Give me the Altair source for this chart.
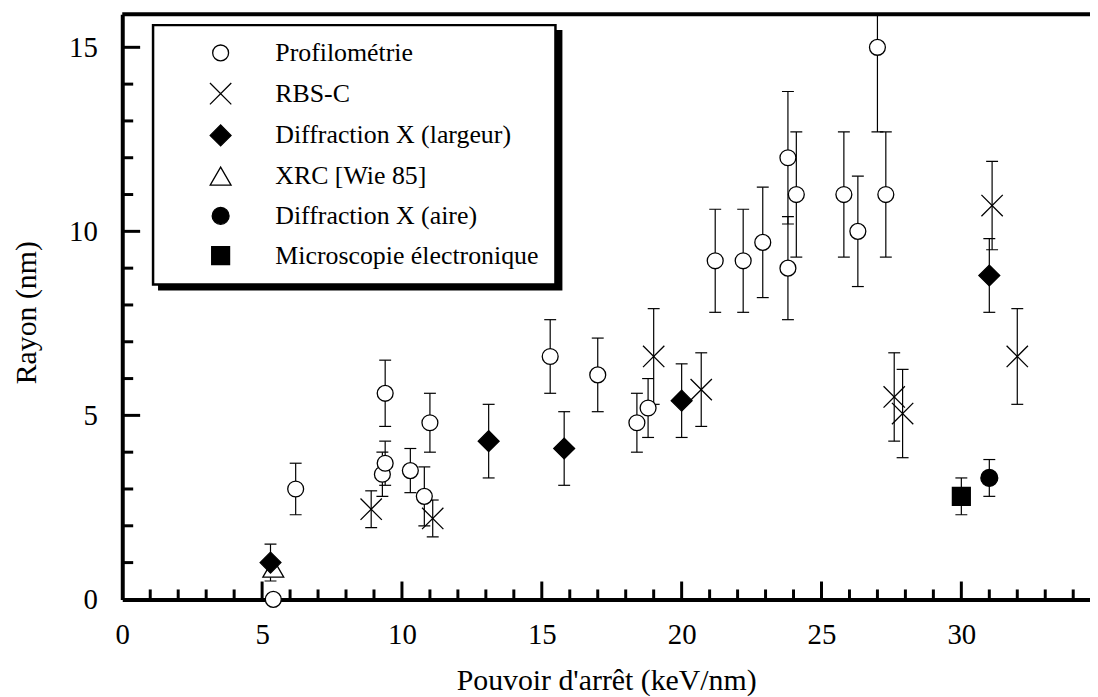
import altair as alt
import pandas as pd

FONT = "Liberation Serif"

# ---------------- data ----------------
series_names = ["Profilométrie", "RBS-C", "Diffraction X (largeur)", "XRC [Wie 85]",
                "Diffraction X (aire)", "Microscopie électronique"]

prof_x = [5.4, 6.2, 9.3, 9.4, 9.4, 10.3, 10.8, 11.0, 15.3, 17.0, 18.4, 18.8,
          21.2, 22.2, 22.9, 23.8, 23.8, 24.1, 25.8, 26.3, 27.0, 27.3]
prof_y = [0.0, 3.0, 3.4, 3.7, 5.6, 3.5, 2.8, 4.8, 6.6, 6.1, 4.8, 5.2,
          9.2, 9.2, 9.7, 12.0, 9.0, 11.0, 11.0, 10.0, 15.0, 11.0]
prof_err = [None, 0.7, 0.6, 0.6, 0.9, 0.6, 0.8, 0.8, 1.0, 1.0, 0.8, 0.8,
            1.4, 1.4, 1.5, 1.8, 1.4, 1.7, 1.7, 1.5, 2.3, 1.7]

rbs_x = [8.9, 11.1, 19.0, 20.7, 27.6, 27.9, 31.1, 32.0]
rbs_y = [2.45, 2.2, 6.6, 5.7, 5.5, 5.05, 10.7, 6.6]
rbs_err = [0.5, 0.5, 1.3, 1.0, 1.2, 1.2, 1.2, 1.3]

xrc_x = [5.4]
xrc_y = [0.85]
xrc_err = [None]

dxl_x = [5.3, 13.1, 15.8, 20.0, 31.0]
dxl_y = [1.0, 4.3, 4.1, 5.4, 8.8]
dxl_err = [0.5, 1.0, 1.0, 1.0, 1.0]

dxa_x = [31.0]
dxa_y = [3.3]
dxa_err = [0.5]

me_x = [30.0]
me_y = [2.8]
me_err = [0.5]

x_major = [5, 10, 15, 20, 25, 30]
x_minor = [v for v in range(1, 35) if v % 5 != 0]
y_major = [5, 10, 15]
y_minor = [v for v in range(1, 16) if v % 5 != 0]
x_labels = [0, 5, 10, 15, 20, 25, 30]
y_labels = [0, 5, 10, 15]

XMAX = 34.6
YMAX = 15.9

# ---------------- tables ----------------
groups = [
    ("Profilométrie", prof_x, prof_y, prof_err),
    ("RBS-C", rbs_x, rbs_y, rbs_err),
    ("XRC [Wie 85]", xrc_x, xrc_y, xrc_err),
    ("Diffraction X (largeur)", dxl_x, dxl_y, dxl_err),
    ("Diffraction X (aire)", dxa_x, dxa_y, dxa_err),
    ("Microscopie électronique", me_x, me_y, me_err),
]
rows, bars, caps = [], [], []
for name, xs_, ys_, es in groups:
    for x, y, e in zip(xs_, ys_, es):
        rows.append({"serie": name, "x": x, "y": y})
        if e is not None:
            bars.append({"x": x, "lo": y - e, "hi": y + e})
            caps.append({"x": x, "v": y - e})
            caps.append({"x": x, "v": y + e})
pts = pd.DataFrame(rows)
bars = pd.DataFrame(bars)
caps = pd.DataFrame(caps)

xt = pd.DataFrame({"t": x_major + x_minor, "len": [18] * len(x_major) + [10] * len(x_minor)})
yt = pd.DataFrame({"t": y_major + y_minor, "len": [18] * len(y_major) + [11] * len(y_minor)})

xs = alt.Scale(domain=[0, XMAX], nice=False, zero=False)
ys = alt.Scale(domain=[0, YMAX], nice=False, zero=False)

x_axis = alt.Axis(values=x_labels, format="d", title="Pouvoir d'arrêt (keV/nm)", grid=False,
                  ticks=False, domainWidth=4, domainColor="black", labelFont=FONT,
                  labelFontSize=29, labelColor="black", labelPadding=21, labelFlush=False,
                  titleFont=FONT, titleFontSize=30, titleFontWeight="normal", titleColor="black",
                  titleY=91, titleBaseline="alphabetic")
y_axis = alt.Axis(values=y_labels, format="d", title="Rayon (nm)", grid=False,
                  ticks=False, domainWidth=4, domainColor="black", labelFont=FONT,
                  labelFontSize=29, labelColor="black", labelPadding=25, labelFlush=False,
                  titleFont=FONT, titleFontSize=30, titleFontWeight="normal", titleColor="black",
                  titleX=-87, titleY=300, titleBaseline="alphabetic")

one = pd.DataFrame({"k": [0]})

shadow = alt.Chart(one).mark_rect(color="black").encode(
    x=alt.value(36), x2=alt.value(443), y=alt.value(16), y2=alt.value(278))
box = alt.Chart(one).mark_rect(fill="white", stroke="black", strokeWidth=2.5).encode(
    x=alt.value(31), x2=alt.value(436), y=alt.value(11), y2=alt.value(272))

err = alt.Chart(bars).mark_rule(color="black", strokeWidth=1.2, clip=True).encode(
    x=alt.X("x:Q", scale=xs, axis=x_axis),
    y=alt.Y("lo:Q", scale=ys, axis=y_axis),
    y2="hi:Q")
cap = alt.Chart(caps).mark_tick(orient="horizontal", size=12, thickness=1.2,
                                color="black", opacity=1, clip=True).encode(
    x=alt.X("x:Q", scale=xs), y=alt.Y("v:Q", scale=ys))

top = alt.Chart(one).mark_rule(color="black", strokeWidth=4).encode(y=alt.datum(YMAX))

xt_major = alt.Chart(xt[xt["len"] == 18]).mark_tick(
    orient="vertical", size=18, thickness=3, color="black", opacity=1, yOffset=-9).encode(
    x=alt.X("t:Q", scale=xs), y=alt.datum(0))
xt_minor = alt.Chart(xt[xt["len"] == 10]).mark_tick(
    orient="vertical", size=10, thickness=3, color="black", opacity=1, yOffset=-5).encode(
    x=alt.X("t:Q", scale=xs), y=alt.datum(0))
yt_major = alt.Chart(yt[yt["len"] == 18]).mark_tick(
    orient="horizontal", size=18, thickness=3, color="black", opacity=1, xOffset=9).encode(
    y=alt.Y("t:Q", scale=ys), x=alt.datum(0))
yt_minor = alt.Chart(yt[yt["len"] == 11]).mark_tick(
    orient="horizontal", size=11, thickness=3, color="black", opacity=1, xOffset=5.5).encode(
    y=alt.Y("t:Q", scale=ys), x=alt.datum(0))

leg = alt.Legend(title=None, orient="none", legendX=86, legendY=26, padding=0,
                 labelFont=FONT, labelFontSize=26, labelColor="black", labelLimit=500,
                 labelOffset=42, rowPadding=14, symbolStrokeColor="black",
                 symbolStrokeWidth=1.3, symbolOpacity=1)

shapes = ["circle", "M-1,-1L1,1M-1,1L1,-1", "diamond", "triangle-up", "circle", "square"]
fills = ["white", "white", "black", "white", "black", "black"]
strokes = ["black"] * 6
sizes = [256, 461, 441, 441, 289, 324]

points = alt.Chart(pts).mark_point(strokeWidth=1.3, opacity=1).encode(
    x=alt.X("x:Q", scale=xs),
    y=alt.Y("y:Q", scale=ys),
    shape=alt.Shape("serie:N", scale=alt.Scale(domain=series_names, range=shapes), legend=leg),
    fill=alt.Fill("serie:N", scale=alt.Scale(domain=series_names, range=fills), legend=leg),
    stroke=alt.Stroke("serie:N", scale=alt.Scale(domain=series_names, range=strokes), legend=leg),
    size=alt.Size("serie:N", scale=alt.Scale(type="ordinal", domain=series_names, range=sizes),
                  legend=leg),
)

chart = alt.layer(shadow, box, err, cap, top, xt_major, xt_minor, yt_major, yt_minor, points).properties(
    width=974, height=589,
    autosize=alt.AutoSizeParams(type="none"),
    padding={"left": 115, "top": 4, "right": 0, "bottom": 96},
    background="white",
).configure_view(stroke=None)

chart.save("out.html", embed_options={"renderer": "svg", "actions": False})
